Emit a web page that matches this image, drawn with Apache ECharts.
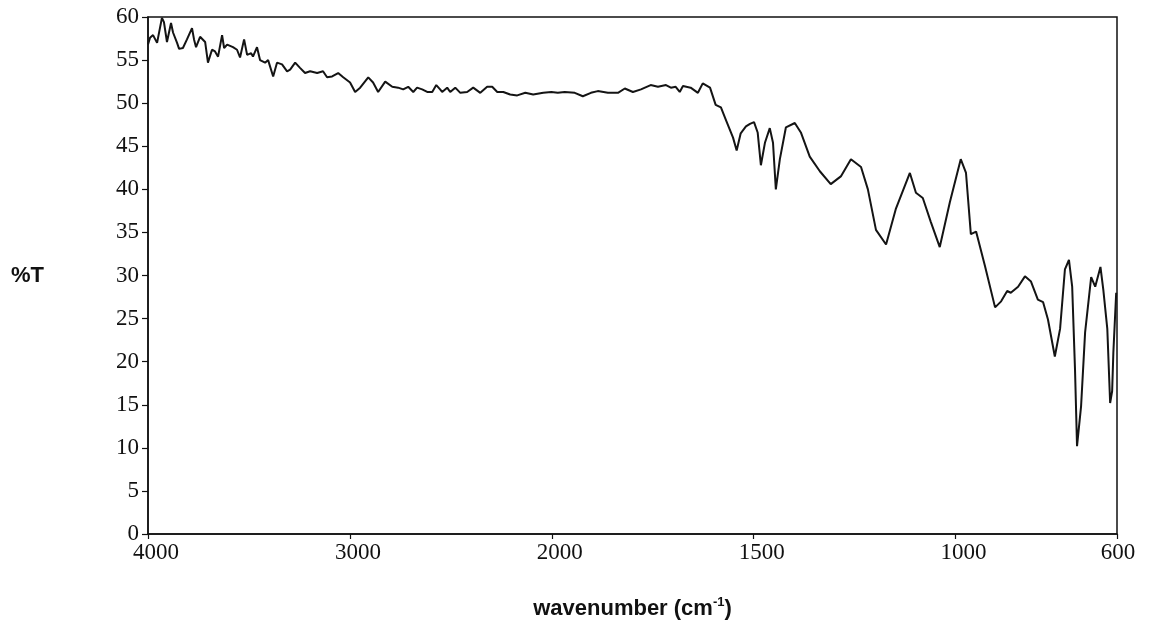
<!DOCTYPE html>
<html>
<head>
<meta charset="utf-8">
<title>IR spectrum</title>
<script src="https://cdn.jsdelivr.net/npm/echarts@6/dist/echarts.min.js"></script>
<style>
  html, body { margin: 0; padding: 0; background: #fff; }
  #chart { width: 1151px; height: 626px; }
</style>
</head>
<body>
<div id="chart"></div>
<script>
// Wavenumber (cm-1) of each sampled point, high to low
const wavenumber = [
  4000, 3990, 3975, 3955, 3950, 3931, 3921, 3906, 3886, 3876, 3856, 3846, 3827, 3807,
  3782, 3772, 3762, 3742, 3717, 3703, 3683, 3668, 3653, 3633, 3623, 3608, 3579, 3559,
  3544, 3524, 3509, 3489, 3480, 3460, 3445, 3420, 3405, 3380, 3361, 3336, 3311, 3296,
  3271, 3247, 3222, 3197, 3162, 3133, 3113, 3088, 3058, 3033, 2999, 2974, 2949, 2909,
  2885, 2860, 2825, 2790, 2761, 2736, 2711, 2686, 2667, 2642, 2617, 2592, 2572, 2553,
  2543, 2518, 2503, 2478, 2453, 2419, 2389, 2354, 2320, 2295, 2270, 2240, 2206, 2171,
  2131, 2092, 2042, 2002, 1985, 1968, 1943, 1923, 1903, 1886, 1861, 1836, 1819, 1799,
  1779, 1755, 1737, 1717, 1705, 1693, 1683, 1675, 1656, 1638, 1626, 1608, 1594, 1581,
  1569, 1551, 1542, 1532, 1519, 1509, 1499, 1490, 1482, 1472, 1460, 1452, 1445, 1435,
  1420, 1398, 1383, 1361, 1336, 1309, 1284, 1259, 1234, 1217, 1197, 1172, 1148, 1113,
  1098, 1081, 1061, 1039, 1014, 987, 974, 962, 949, 927, 902, 887, 872, 863, 845, 828,
  813, 796, 783, 771, 754, 741, 729, 719, 711, 704, 699, 689, 679, 664, 654, 641, 634,
  624, 617, 612, 609, 602
];

// Percent transmittance at each wavenumber
const transmittance = [
  56.8, 57.6, 57.9, 57.0, 57.6, 59.9, 59.4, 57.1, 59.3, 58.2, 57.0, 56.3, 56.4, 57.4,
  58.7, 57.4, 56.5, 57.7, 57.1, 54.7, 56.2, 56.0, 55.4, 57.9, 56.4, 56.8, 56.5, 56.2,
  55.3, 57.4, 55.6, 55.8, 55.4, 56.5, 55.0, 54.7, 55.0, 53.1, 54.7, 54.5, 53.7, 53.9,
  54.7, 54.1, 53.5, 53.7, 53.5, 53.7, 53.0, 53.1, 53.5, 53.0, 52.4, 51.3, 51.8, 53.0,
  52.4, 51.3, 52.5, 51.9, 51.8, 51.6, 51.9, 51.3, 51.8, 51.6, 51.3, 51.3, 52.1, 51.6,
  51.3, 51.8, 51.3, 51.8, 51.2, 51.3, 51.8, 51.2, 51.9, 51.9, 51.3, 51.3, 51.0, 50.9,
  51.2, 51.0, 51.2, 51.3, 51.2, 51.3, 51.2, 50.8, 51.2, 51.4, 51.2, 51.2, 51.7, 51.3,
  51.6, 52.1, 51.9, 52.1, 51.8, 51.9, 51.3, 52.0, 51.8, 51.2, 52.3, 51.8, 49.8, 49.5,
  48.1, 46.0, 44.5, 46.5, 47.3, 47.6, 47.8, 46.6, 42.8, 45.4, 47.1, 45.4, 40.0, 43.5,
  47.2, 47.7, 46.6, 43.8, 42.1, 40.6, 41.5, 43.5, 42.6, 40.0, 35.3, 33.6, 37.7, 41.9,
  39.6, 39.0, 36.2, 33.3, 38.5, 43.5, 41.9, 34.8, 35.1, 31.1, 26.3, 27.0, 28.2, 28.0,
  28.7, 29.9, 29.3, 27.2, 26.9, 24.9, 20.6, 23.8, 30.7, 31.8, 28.7, 19.1, 10.2, 14.8,
  23.4, 29.8, 28.7, 31.0, 28.4, 23.8, 15.2, 16.6, 21.1, 28.0
];

// Tick labels along the wavenumber axis
const xTickLabels = [4000, 3000, 2000, 1500, 1000, 600];
// Tick values along the %T axis run 0..60 in steps of 5
const yMin = 0, yMax = 60, yStep = 5;

// The spectrometer plots 4000-2000 cm-1 at half the scale of 2000-600 cm-1.
// Map a wavenumber onto a uniform plotting coordinate and back.
function toAxis(wn) {
  return wn >= 2000 ? (4000 - wn) / 2 : 1000 + (2000 - wn);
}
function fromAxis(u) {
  return u <= 1000 ? 4000 - 2 * u : 2000 - (u - 1000);
}

const seriesData = wavenumber.map((wn, i) => [toAxis(wn), transmittance[i]]);
const xTickPos = xTickLabels.map(toAxis);

const serif = '"Liberation Serif", "Times New Roman", serif';
const sans = '"Liberation Sans", Arial, sans-serif';

const chart = echarts.init(document.getElementById('chart'), null, { renderer: 'canvas' });
chart.setOption({
  backgroundColor: '#ffffff',
  animation: false,
  grid: {
    left: 148, right: 34, top: 17, bottom: 91,
    show: true, borderColor: '#111', borderWidth: 1.5, backgroundColor: 'transparent'
  },
  xAxis: {
    type: 'value',
    min: toAxis(4000),
    max: toAxis(600),
    splitLine: { show: false },
    axisLine: { lineStyle: { color: '#111', width: 1.5 } },
    axisTick: {
      customValues: xTickPos,
      length: 5,
      lineStyle: { color: '#111', width: 1.2 }
    },
    axisLabel: {
      customValues: xTickPos,
      // the last label sits closer to its tick than the others
      formatter: (v) => {
        const wn = Math.round(fromAxis(v));
        return wn === 600 ? '{e|' + wn + '}' : '{n|' + wn + '}';
      },
      rich: {
        n: { fontFamily: serif, fontSize: 23, color: '#111', padding: [0, 0, 0, 16] },
        e: { fontFamily: serif, fontSize: 23, color: '#111', padding: [0, 0, 0, 2] }
      },
      margin: 7
    },
    name: '{a|wavenumber (cm}{s|-1}{a|)}',
    nameLocation: 'middle',
    nameGap: 62,
    nameTextStyle: {
      rich: {
        a: { fontFamily: sans, fontWeight: 'bold', fontSize: 22, color: '#111', lineHeight: 26 },
        s: { fontFamily: sans, fontWeight: 'bold', fontSize: 13, color: '#111', verticalAlign: 'top', lineHeight: 26, padding: [0, 0, 12, 0] }
      }
    }
  },
  yAxis: {
    type: 'value',
    min: yMin, max: yMax, interval: yStep,
    splitLine: { show: false },
    axisLine: { show: true, lineStyle: { color: '#111', width: 1.5 } },
    axisTick: { show: true, length: 6, lineStyle: { color: '#111', width: 1.2 } },
    axisLabel: {
      fontFamily: serif,
      fontSize: 23,
      color: '#111',
      margin: 9
    },
    name: '%T',
    nameLocation: 'middle',
    nameRotate: 0,
    nameGap: 104,
    nameTextStyle: { fontFamily: sans, fontWeight: 'bold', fontSize: 22, color: '#111' }
  },
  series: [{
    type: 'line',
    data: seriesData,
    showSymbol: false,
    smooth: false,
    clip: true,
    lineStyle: { color: '#141414', width: 2 }
  }]
});
</script>
</body>
</html>
